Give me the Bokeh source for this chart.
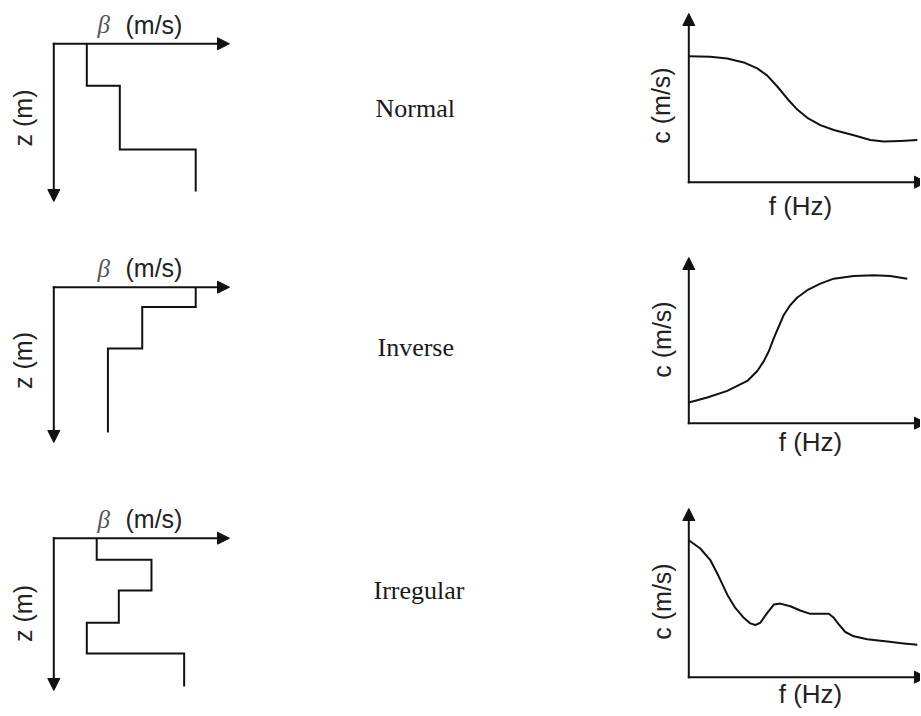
import math
from bokeh.plotting import figure
from bokeh.models import Range1d, Label, Arrow, NormalHead
from bokeh.layouts import gridplot
from bokeh.embed import file_html
from bokeh.resources import INLINE

# ---------------- data (read from the schematic) ----------------
profile_names = ["Normal", "Inverse", "Irregular"]

# shear-wave velocity profiles: layer velocity (m/s), layer boundaries (m)
beta_normal = [100, 200, 430]
z_normal = [0, 7.0, 17.6, 24.6]
beta_inverse = [430, 268, 164]
z_inverse = [0, 3.3, 10.2, 24.2]
beta_irregular = [130, 296, 197, 100, 395]
z_irregular = [0, 3.6, 8.7, 14.1, 19.2, 24.7]

# dispersion curves: frequency (Hz), phase velocity (m/s)
f_normal = [0, 4.3, 7.7, 11, 13.7, 15.7, 17.7, 19.7, 21.7, 23.7, 26.3, 29, 33, 36.3, 39, 42.3, 45.7]
c_normal = [382, 380, 375, 363, 345, 323, 290, 253, 220, 195, 173, 158, 142, 128, 123, 125, 128]
f_inverse = [0, 3.7, 7.7, 11.7, 13.7, 15, 16, 17, 18, 19, 20.3, 21.7, 23.7, 26.3, 29, 33, 37, 40.3, 43.7]
c_inverse = [63, 78, 98, 128, 158, 188, 218, 258, 293, 328, 358, 381, 403, 423, 438, 446, 448, 446, 438]
f_irregular = [0, 2.3, 4.3, 6, 7.7, 9.3, 11, 12.3, 13.3, 14.3, 15.7, 17, 18.3, 20.3, 22.3, 24.3, 26.3,
               28, 29, 30, 31.3, 33, 35.7, 39.7, 43, 45.7]
c_irregular = [415, 390, 355, 305, 250, 210, 180, 163, 158, 165, 195, 220, 223, 215, 202, 192, 192,
               192, 180, 160, 137, 124, 115, 108, 102, 98]

beta_label = "\u03b2"
beta_unit = "(m/s)"
z_label = "z (m)"
f_label = "f (Hz)"
c_label = "c (m/s)"

profiles = [(beta_normal, z_normal), (beta_inverse, z_inverse), (beta_irregular, z_irregular)]
curves = [(f_normal, c_normal), (f_inverse, c_inverse), (f_irregular, c_irregular)]

# ---------------- layout / style (pixels of the reference) ----------------
COL_X = [0, 240, 632]          # left edges of columns (page px)
COL_W = [240, 392, 288]
ROW_Y = [0, 235, 475]          # top edges of rows
ROW_H = [235, 240, 240]

PX_PER_MS = 0.33               # px per m/s (profile & curve velocity axes)
PX_PER_M = 6.0                 # px per m (depth)
PX_PER_HZ = 5.0                # px per Hz

LEFT_ORIG = [(53.3, 43.3), (53.3, 286.7), (53.3, 537.7)]
LEFT_XTIP = 229.0
LEFT_YTIP = [201.0, 442.0, 690.0]
BETA_X = 97.0
UNIT_X = 125.0
BETA_RISE = 19.0               # px from axis line to label anchor
Z_LAB = [(22.0, 117.5), (22.0, 360.0), (22.0, 613.0)]

RIGHT_ORIG = [(688.3, 181.7), (688.3, 422.7), (688.3, 676.7)]
RIGHT_YTIP = [13.0, 257.0, 508.0]
RIGHT_XTIP = 926.0
F_LAB = [(800.0, 205.0), (810.0, 441.0), (810.0, 693.0)]
C_LAB = [(660.0, 105.0), (661.0, 339.0), (661.0, 601.0)]

NAME_POS = [(375.0, 108.0), (377.0, 347.0), (373.0, 590.0)]

INK = "#111111"
LW = 2
SANS = "Liberation Sans"
SERIF = "Liberation Serif"
FS = "25px"


def base_fig(w, h, xr, yr):
    p = figure(width=w, height=h, x_range=xr, y_range=yr, output_backend="svg",
               toolbar_location=None, x_axis_type=None, y_axis_type=None,
               min_border=0, min_border_left=0, min_border_right=0,
               min_border_top=0, min_border_bottom=0)
    p.outline_line_color = None
    p.background_fill_color = "white"
    p.border_fill_color = "white"
    return p


def arrow(p, x0, y0, x1, y1):
    p.add_layout(Arrow(x_start=x0, y_start=y0, x_end=x1, y_end=y1, line_width=LW,
                       line_color=INK,
                       end=NormalHead(size=12, fill_color=INK, line_color=INK, line_width=1)))


rows = []
for r in range(3):
    H = ROW_H[r]
    # ---------- left: velocity profile ----------
    W = COL_W[0]
    ox = LEFT_ORIG[r][0] - COL_X[0]
    oy = LEFT_ORIG[r][1] - ROW_Y[r]
    pl = base_fig(W, H,
                  Range1d(-ox / PX_PER_MS, (W - ox) / PX_PER_MS),
                  Range1d((H - oy) / PX_PER_M, -oy / PX_PER_M))
    beta, z = profiles[r]
    xs, ys = [], []
    for i, b in enumerate(beta):
        xs += [b, b]
        ys += [z[i], z[i + 1]]
    pl.line(xs, ys, line_color=INK, line_width=LW, line_join="miter")
    ax0 = LEFT_ORIG[r]
    arrow(pl, -1 / PX_PER_MS, 0, (LEFT_XTIP - ax0[0]) / PX_PER_MS, 0)
    arrow(pl, 0, -1 / PX_PER_M, 0, (LEFT_YTIP[r] - ax0[1]) / PX_PER_M)
    pl.add_layout(Label(x=(BETA_X - ax0[0]) / PX_PER_MS, y=-BETA_RISE / PX_PER_M, text=beta_label,
                        text_font=SERIF, text_font_style="italic", text_font_size=FS,
                        text_color="#555555", text_baseline="alphabetic", text_align="left"))
    pl.add_layout(Label(x=(UNIT_X - ax0[0]) / PX_PER_MS, y=-BETA_RISE / PX_PER_M, text=beta_unit,
                        text_font=SANS, text_font_size=FS, text_color="#222222",
                        text_baseline="alphabetic", text_align="left"))
    pl.add_layout(Label(x=(Z_LAB[r][0] - ax0[0]) / PX_PER_MS, y=(Z_LAB[r][1] - ax0[1]) / PX_PER_M,
                        text=z_label, angle=math.pi / 2, text_font=SANS, text_font_size=FS,
                        text_color="#222222", text_baseline="middle", text_align="center"))

    # ---------- middle: profile name ----------
    Wm = COL_W[1]
    pm = base_fig(Wm, H, Range1d(0, Wm), Range1d(H, 0))
    pm.add_layout(Label(x=NAME_POS[r][0] - COL_X[1], y=NAME_POS[r][1] - ROW_Y[r],
                        text=profile_names[r], text_font=SERIF, text_font_size="26px",
                        text_color="#1a1a1a", text_baseline="alphabetic", text_align="left"))

    # ---------- right: dispersion curve ----------
    Wr = COL_W[2]
    ox = RIGHT_ORIG[r][0] - COL_X[2]
    oy = RIGHT_ORIG[r][1] - ROW_Y[r]
    pr = base_fig(Wr, H,
                  Range1d(-ox / PX_PER_HZ, (Wr - ox) / PX_PER_HZ),
                  Range1d(-(H - oy) / PX_PER_MS, oy / PX_PER_MS))
    f, c = curves[r]
    pr.line(f, c, line_color=INK, line_width=LW, line_join="round")
    a0 = RIGHT_ORIG[r]
    arrow(pr, -1 / PX_PER_HZ, 0, (RIGHT_XTIP - a0[0]) / PX_PER_HZ, 0)
    arrow(pr, 0, -1 / PX_PER_MS, 0, (a0[1] - RIGHT_YTIP[r]) / PX_PER_MS)
    pr.add_layout(Label(x=(F_LAB[r][0] - a0[0]) / PX_PER_HZ, y=(a0[1] - F_LAB[r][1]) / PX_PER_MS,
                        text=f_label, text_font=SANS, text_font_size="26px", text_color="#222222",
                        text_baseline="middle", text_align="center"))
    pr.add_layout(Label(x=(C_LAB[r][0] - a0[0]) / PX_PER_HZ, y=(a0[1] - C_LAB[r][1]) / PX_PER_MS,
                        text=c_label, angle=math.pi / 2, text_font=SANS, text_font_size=FS,
                        text_color="#222222", text_baseline="middle", text_align="center"))

    rows.append([pl, pm, pr])

grid = gridplot(rows, toolbar_location=None)

open("out.html", "w").write(file_html(grid, INLINE))
